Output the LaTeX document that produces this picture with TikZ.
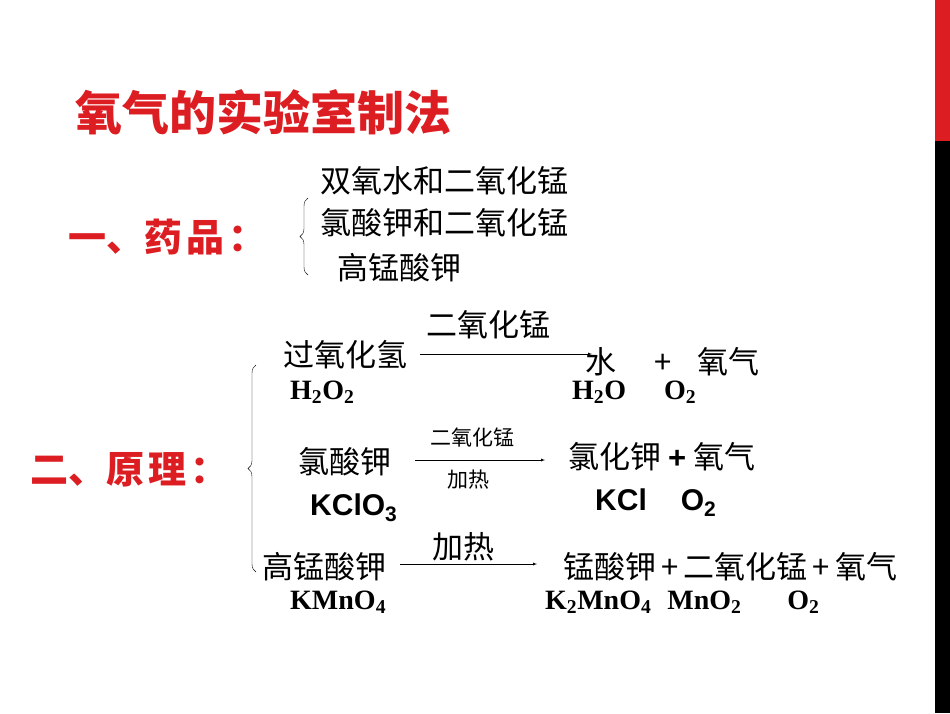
\documentclass[tikz,border=0pt]{standalone}
\usepackage{fontspec}
\setmainfont{Liberation Serif}
\newfontfamily\cjk{Noto Sans CJK SC}
\newfontfamily\arialb{Liberation Sans}
\usetikzlibrary{positioning,decorations.pathreplacing}
\definecolor{titlered}{RGB}{220,30,35}
\newcommand{\sub}[1]{\textsubscript{#1}}
\tikzset{
  redhead/.style={text=titlered,font=\cjk\bfseries\fontsize{38}{38}\selectfont},
  cn/.style={font=\cjk\fontsize{31}{31}\selectfont,inner sep=0pt},
  cnsmall/.style={font=\cjk\fontsize{21}{21}\selectfont,inner sep=0pt},
  formula/.style={font=\bfseries\fontsize{28}{28}\selectfont,inner sep=0pt},
  formsans/.style={font=\arialb\bfseries\fontsize{30}{30}\selectfont,inner sep=0pt},
  react/.style={-latex,thin},
  brace/.style={decorate,decoration={brace,amplitude=8pt}}
}
\begin{document}
\begin{tikzpicture}[x=1pt,y=-1pt]
\useasboundingbox (0,0) rectangle (950,713);
\fill[titlered] (935,0) rectangle (950,141);
\fill[black] (935,141) rectangle (950,713);
\node[text=titlered,font=\cjk\bfseries\fontsize{47}{47}\selectfont,inner sep=0pt,anchor=west] (title) at (75,112) {氧气的实验室制法};
% drugs
\node[redhead,inner sep=0pt,anchor=west] (yao) at (68,237) {一、药\hspace{4pt}品\hspace{4pt}：};
\node[cn,anchor=west] (d1) at (320,181) {双氧水和二氧化锰};
\node[cn,anchor=west] (d2) at (320,223) {氯酸钾和二氧化锰};
\node[cn,anchor=west] (d3) at (337,268) {高锰酸钾};
\draw[brace] (308,275) -- (308,198);
% principles
\node[redhead,inner sep=0pt,anchor=west] (yuan) at (30,470) {二、原\hspace{4pt}理\hspace{4pt}：};
\draw[brace] (256,572) -- (256,365);
% row 1
\node[cn,anchor=west] (r1) at (283,355) {过氧化氢};
\node[formula,anchor=west] (f1) at (290,392) {H\sub{2}O\sub{2}};
\coordinate (a1s) at (420,354);
\coordinate (a1e) at (592,354);
\draw[react] (a1s) -- (a1e);
\node[cn] (c1) at (488,325) {二氧化锰};
\node[cn,anchor=west] (p1) at (585,362) {水\hspace{38pt}+\hspace{26pt}氧气};
\node[formula,anchor=west] (g1) at (572,392) {H\sub{2}O\hspace{38pt}O\sub{2}};
% row 2
\node[cn,anchor=west] (r2) at (298,462) {氯酸钾};
\node[formsans,anchor=west] (f2) at (310,508) {KClO\sub{3}};
\coordinate (a2s) at (415,460);
\coordinate (a2e) at (545,460);
\draw[react] (a2s) -- (a2e);
\node[cnsmall] (c2) at (472,437) {二氧化锰};
\node[cnsmall] (h2) at (468,480) {加热};
\node[cn,anchor=west] (p2) at (568,457) {氯化钾 {\arialb\bfseries +} 氧气};
\node[formsans,anchor=west] (g2) at (595,503) {KCl\hspace{34pt}O\sub{2}};
% row 3
\node[cn,anchor=west] (r3) at (262,567) {高锰酸钾};
\node[formula,anchor=west] (f3) at (290,602) {KMnO\sub{4}};
\coordinate (a3s) at (400,564);
\coordinate (a3e) at (537,564);
\draw[react] (a3s) -- (a3e);
\node[cn] (h3) at (463,547) {加热};
\node[cn,anchor=west] (p3) at (563,567) {锰酸钾\,+\,二氧化锰\,+\,氧气};
\node[formula,anchor=west] (g3) at (545,602) {K\sub{2}MnO\sub{4}\hspace{16pt}MnO\sub{2}\hspace{46pt}O\sub{2}};
\end{tikzpicture}
\end{document}
